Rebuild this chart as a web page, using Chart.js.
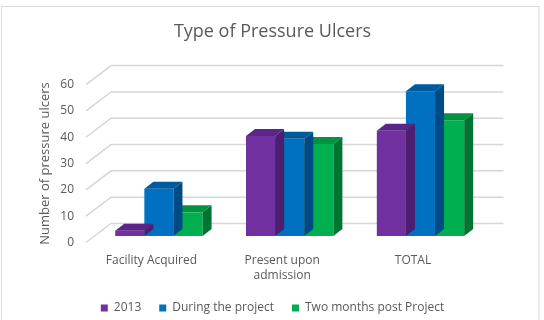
<!DOCTYPE html>
<html>
<head>
<meta charset="utf-8">
<script src="https://cdn.jsdelivr.net/npm/chart.js@4.4.1/dist/chart.umd.min.js"></script>
<style>
  html, body { margin: 0; padding: 0; background: #fff; }
  #wrap { width: 544px; height: 320px; }
</style>
</head>
<body>
<div id="wrap"><canvas id="ulcers" width="544" height="320"></canvas></div>
<script>
let categories = ["Facility Acquired", ["Present upon", "admission"], "TOTAL"];
let seriesNames = ["2013", "During the project", "Two months post Project"];
let values2013 = [2, 38, 40];
let valuesDuring = [18, 37, 55];
let valuesPost = [9, 35, 44];
let yMax = 60;
let yStep = 10;

// front, top and side colours for each series
let frontColors = ["#7030A0", "#0070C0", "#00B050"];
let topColors = ["#5C2688", "#005B9E", "#009440"];
let sideColors = ["#4B1E70", "#004B84", "#007433"];

let textColor = "#595959";
let gridColor = "#D6D6D6";

// 3d offsets
let wall = { dx: 25, dy: -19 };
let barShift = { dx: 7.5, dy: -6.5 };
let depth = { dx: 9, dy: -7 };

let threeD = {
    id: "threeD",
    beforeDraw(chart) {
        let ctx = chart.ctx;
        let area = chart.chartArea;
        let ys = chart.scales.y;
        ctx.save();
        ctx.strokeStyle = "#D9D9D9";
        ctx.lineWidth = 1;
        ctx.strokeRect(1.5, 6.5, 537.5, 340);
        // side wall + back wall gridlines
        ctx.strokeStyle = gridColor;
        ctx.lineWidth = 1.5;
        for (let v = 0; v <= yMax; v += yStep) {
            let py = ys.getPixelForValue(v);
            ctx.beginPath();
            ctx.moveTo(area.left, py);
            ctx.lineTo(area.left + wall.dx, py + wall.dy);
            ctx.lineTo(area.right + wall.dx, py + wall.dy);
            ctx.stroke();
        }
        ctx.restore();
    },
    beforeDatasetsDraw(chart) {
        chart.ctx.save();
        chart.ctx.translate(barShift.dx, barShift.dy);
    },
    afterDatasetDraw(chart, args) {
        let ctx = chart.ctx;
        let i = args.index;
        args.meta.data.forEach(bar => {
            let p = bar.getProps(["x", "y", "base", "width"], true);
            let left = p.x - p.width / 2;
            let right = p.x + p.width / 2;
            ctx.fillStyle = topColors[i];
            ctx.beginPath();
            ctx.moveTo(left, p.y);
            ctx.lineTo(right, p.y);
            ctx.lineTo(right + depth.dx, p.y + depth.dy);
            ctx.lineTo(left + depth.dx, p.y + depth.dy);
            ctx.closePath();
            ctx.fill();
            ctx.fillStyle = sideColors[i];
            ctx.beginPath();
            ctx.moveTo(right, p.y);
            ctx.lineTo(right + depth.dx, p.y + depth.dy);
            ctx.lineTo(right + depth.dx, p.base + depth.dy);
            ctx.lineTo(right, p.base);
            ctx.closePath();
            ctx.fill();
        });
    },
    afterDatasetsDraw(chart) {
        chart.ctx.restore();
    }
};

let allValues = [values2013, valuesDuring, valuesPost];

let chartData = {
    labels: categories,
    datasets: allValues.map((vals, i) => ({
        label: seriesNames[i],
        data: vals,
        backgroundColor: frontColors[i],
        borderWidth: 0,
        barPercentage: 1,
        categoryPercentage: 0.668,
        clip: false,
    })),
};

let chartOptions = {
    responsive: false,
    animation: false,
    events: [],
    layout: { padding: { left: 37, right: 36, top: 0, bottom: -4 } },
    plugins: {
        title: {
            display: true,
            text: "Type of Pressure Ulcers",
            color: textColor,
            font: { family: "Open Sans", size: 18, weight: "normal", lineHeight: 1.2 },
            padding: { top: 21, bottom: 42 },
        },
        legend: {
            position: "bottom",
            labels: {
                color: textColor,
                boxWidth: 7,
                boxHeight: 7,
                padding: 18,
                font: { family: "Open Sans", size: 12 },
            },
        },
        tooltip: { enabled: false },
    },
    scales: {
        x: {
            grid: { display: false, drawTicks: false },
            border: { display: false },
            ticks: {
                color: textColor,
                padding: 10,
                maxRotation: 0,
                font: { family: "Open Sans", size: 12, lineHeight: 1.3 },
            },
            afterFit(scale) { scale.height = 41.5; },
        },
        y: {
            min: 0,
            max: yMax,
            grid: { display: false, drawTicks: false },
            border: { display: false },
            ticks: {
                stepSize: yStep,
                color: textColor,
                padding: 12,
                font: { family: "Open Sans", size: 12 },
            },
            title: {
                display: true,
                text: "Number of pressure ulcers",
                color: textColor,
                padding: { top: 0, bottom: 0 },
                font: { family: "Open Sans", size: 13, lineHeight: 1.2 },
            },
            afterFit(scale) { scale.width = 49; },
        },
        yRight: {
            position: "right",
            display: true,
            grid: { display: false, drawTicks: false },
            border: { display: false },
            ticks: { display: false },
            afterFit(scale) { scale.width = 29.6; },
        },
    },
};

let ulcersChart = new Chart(
    document.getElementById("ulcers"), {
        type: "bar",
        data: chartData,
        options: chartOptions,
        plugins: [threeD],
    }
);
</script>
</body>
</html>
